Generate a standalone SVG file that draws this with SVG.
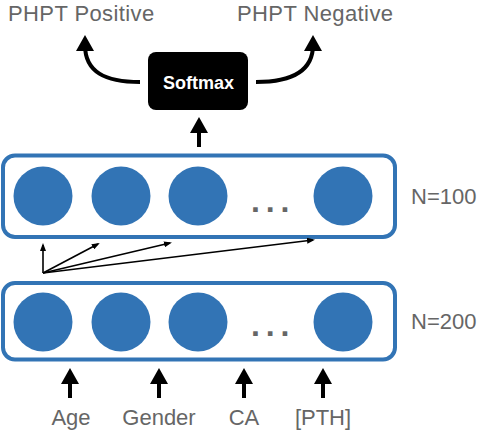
<svg xmlns="http://www.w3.org/2000/svg" width="478" height="432" viewBox="0 0 478 432">
<style>
.lbl{font-family:"Liberation Sans",Arial,sans-serif;font-size:22px;fill:#666666}
.ttl{font-family:"Liberation Sans",Arial,sans-serif;font-size:22px;fill:#666666;letter-spacing:0.4px}
.box{fill:#ffffff;stroke:#3274b5;stroke-width:4}
.unit{fill:#3274b5}
.dots{font-family:"Liberation Sans",Arial,sans-serif;font-size:32px;font-weight:bold;fill:#666666;letter-spacing:5.8px}
.thick{fill:none;stroke:#000;stroke-width:4}
.thin{fill:none;stroke:#000;stroke-width:1.6}
</style>
<defs>
<marker id="big" markerUnits="userSpaceOnUse" markerWidth="16" markerHeight="18" viewBox="0 0 16 18" refX="6" refY="9" orient="auto"><path d="M0,0 L16,9 L0,18 z" fill="#000"/></marker>
<marker id="small" markerUnits="userSpaceOnUse" markerWidth="8" markerHeight="6" viewBox="0 0 8 6" refX="6" refY="3" orient="auto"><path d="M0,0 L8,3 L0,6 z" fill="#000"/></marker>
</defs>
<g id="out-positive"><text class="ttl" x="8" y="20.5">PHPT Positive</text></g>
<g id="out-negative"><text class="ttl" x="237" y="20.5">PHPT Negative</text></g>
<g id="softmax">
<rect x="148" y="52" width="100" height="58" rx="8" fill="#000"/>
<text x="198.5" y="89" text-anchor="middle" style="font-family:'Liberation Sans',Arial,sans-serif;font-size:18px;font-weight:bold;fill:#fff">Softmax</text>
</g>
<g id="hidden2">
<rect class="box" x="3" y="155.5" width="392" height="81.5" rx="12"/>
<circle class="unit" cx="43" cy="196" r="29.5"/>
<circle class="unit" cx="121" cy="196" r="29.5"/>
<circle class="unit" cx="198" cy="196" r="29.5"/>
<circle class="unit" cx="343" cy="196" r="29.5"/>
<text class="dots" x="251" y="212">...</text>
<text class="lbl" x="411" y="204">N=100</text>
</g>
<g id="hidden1">
<rect class="box" x="3" y="283" width="392" height="76.5" rx="12"/>
<circle class="unit" cx="43" cy="322" r="29.5"/>
<circle class="unit" cx="121" cy="322" r="29.5"/>
<circle class="unit" cx="198" cy="322" r="29.5"/>
<circle class="unit" cx="343" cy="322" r="29.5"/>
<text class="dots" x="251" y="336">...</text>
<text class="lbl" x="411" y="329">N=200</text>
</g>
<g id="inputs">
<text class="lbl" x="71" y="425" text-anchor="middle">Age</text>
<text class="lbl" x="159" y="425" text-anchor="middle">Gender</text>
<text class="lbl" x="244" y="425" text-anchor="middle">CA</text>
<text class="lbl" x="323" y="425" text-anchor="middle">[PTH]</text>
</g>
<g id="connectors">
<path class="thick" d="M140,82 C105,82 85,72 85,45" marker-end="url(#big)"/>
<path class="thick" d="M256,82 C291,82 313,72 313,45" marker-end="url(#big)"/>
<path class="thick" d="M199,147 L199,127" marker-end="url(#big)"/>
<path class="thick" d="M70,398 L70,378" marker-end="url(#big)"/>
<path class="thick" d="M159,398 L159,378" marker-end="url(#big)"/>
<path class="thick" d="M244,398 L244,378" marker-end="url(#big)"/>
<path class="thick" d="M323,398 L323,378" marker-end="url(#big)"/>
<path class="thin" d="M43,273 L43,245" marker-end="url(#small)"/>
<path class="thin" d="M43,273 L98,244" marker-end="url(#small)"/>
<path class="thin" d="M43,273 L170,243" marker-end="url(#small)"/>
<path class="thin" d="M43,273 L313,240" marker-end="url(#small)"/>
</g>
</svg>
